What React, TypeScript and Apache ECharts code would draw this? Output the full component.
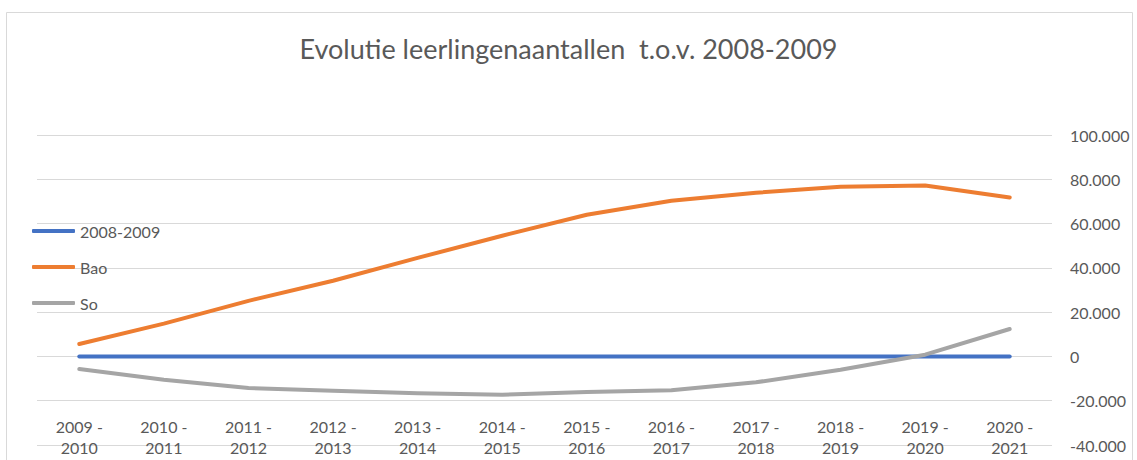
import React, { useEffect, useRef } from "react";
import * as echarts from "echarts";

const categories = [
  "2009 -\n2010", "2010 -\n2011", "2011 -\n2012", "2012 -\n2013", "2013 -\n2014", "2014 -\n2015",
  "2015 -\n2016", "2016 -\n2017", "2017 -\n2018", "2018 -\n2019", "2019 -\n2020", "2020 -\n2021",
];
const base2008 = [0, 0, 0, 0, 0, 0, 0, 0, 0, 0, 0, 0];
const bao = [5600, 14800, 25100, 34200, 44500, 54500, 64000, 70300, 73900, 76600, 77200, 71800];
const so = [-5700, -10500, -14300, -15500, -16600, -17300, -16100, -15300, -11700, -6000, 800, 12400];

const FONT = "Lato";
const TXT = "#595959";

export default function App() {
  const ref = useRef<HTMLDivElement>(null);
  useEffect(() => {
    const chart = echarts.init(ref.current!, null, { renderer: "svg" });
    const fmt = (v: number) => {
      const s = Math.abs(v).toString().replace(/\B(?=(\d{3})+(?!\d))/g, ".");
      return v < 0 ? "-" + s : s;
    };
    const mk = (name: string, data: number[], color: string) => ({
      name,
      type: "line",
      data,
      showSymbol: false,
      symbol: "none",
      lineStyle: { color, width: 4, cap: "round", join: "round" },
      itemStyle: { color },
    });
    chart.setOption({
      animation: false,
      backgroundColor: "#ffffff",
      textStyle: { fontFamily: FONT },
      title: {
        text: "Evolutie leerlingenaantallen  t.o.v. 2008-2009",
        left: "center",
        top: 30,
        textStyle: { fontFamily: FONT, fontSize: 27, fontWeight: 400, color: TXT },
      },
      graphic: [
        {
          type: "rect",
          shape: { x: 6.5, y: 12.5, width: 1126, height: 460 },
          style: { fill: "none", stroke: "#d9d9d9", lineWidth: 1 },
          silent: true,
        },
      ],
      legend: {
        orient: "vertical",
        left: 27,
        top: 218,
        itemWidth: 43,
        itemHeight: 4,
        itemGap: 20,
        icon: "roundRect",
        textStyle: { fontFamily: FONT, fontSize: 16, color: TXT },
        data: ["2008-2009", "Bao", "So"],
      },
      grid: { left: 37, right: 85, top: 135, bottom: 15, containLabel: false },
      xAxis: {
        type: "category",
        data: categories,
        boundaryGap: true,
        offset: -37,
        axisLine: { show: false },
        axisTick: { show: false },
        axisLabel: { margin: 8, fontFamily: FONT, fontSize: 16, color: TXT, lineHeight: 21 },
      },
      yAxis: {
        type: "value",
        position: "right",
        min: -40000,
        max: 100000,
        interval: 20000,
        axisLine: { show: false },
        axisTick: { show: false },
        splitLine: { lineStyle: { color: "#d9d9d9", width: 1 } },
        axisLabel: { margin: 18, fontFamily: FONT, fontSize: 16, color: TXT, formatter: fmt },
      },
      series: [
        mk("2008-2009", base2008, "#4472C4"),
        mk("Bao", bao, "#ED7D31"),
        mk("So", so, "#A5A5A5"),
      ],
    });
    return () => chart.dispose();
  }, []);
  return (
    <div
      ref={ref}
      style={{ position: "fixed", left: 0, top: 0, width: 1137, height: 460 }}
    />
  );
}
